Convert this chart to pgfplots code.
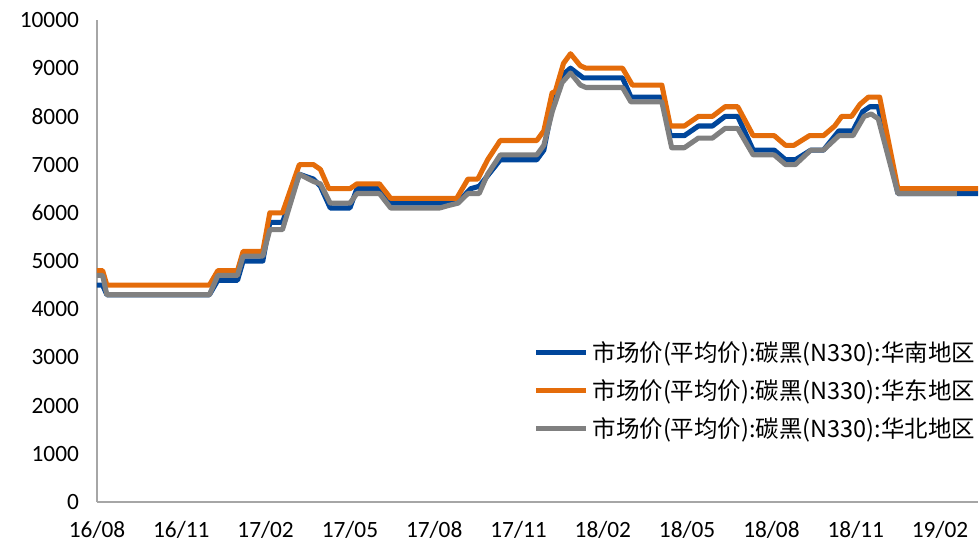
\documentclass[border=0pt]{standalone}
\usepackage{pgfplots}
\pgfplotsset{compat=1.18}
\usepackage{fontspec}
\setmainfont{Carlito}
\newfontfamily\cjk{Noto Sans CJK SC}

\definecolor{southblue}{RGB}{0,70,155}
\definecolor{eastorange}{RGB}{228,108,10}
\definecolor{northgrey}{RGB}{128,128,128}

% x: months since 2016-08
\pgfplotstableread{
m v
0 4500
0.2 4500
0.35 4300
4.0 4300
4.3 4600
5.0 4600
5.2 5000
5.9 5000
6.15 5800
6.6 5800
7.2 6800
7.7 6700
7.95 6550
8.3 6100
9.0 6100
9.25 6500
10.05 6500
10.45 6200
12.8 6200
13.3 6500
13.6 6550
14.35 7100
15.65 7100
15.9 7300
16.2 8200
16.55 8850
16.85 9000
17.3 8800
18.7 8800
19.0 8400
20.1 8400
20.4 7600
20.9 7600
21.4 7800
21.9 7800
22.35 8000
22.8 8000
23.35 7300
24.1 7300
24.5 7100
24.85 7100
25.4 7300
25.85 7300
26.4 7700
26.9 7700
27.25 8100
27.5 8200
27.8 8200
28.5 6400
31.35 6400
}\south

\pgfplotstableread{
m v
0 4800
0.2 4800
0.35 4500
4.0 4500
4.3 4800
5.0 4800
5.2 5200
5.9 5200
6.15 6000
6.6 6000
7.2 7000
7.7 7000
7.95 6900
8.25 6500
9.0 6500
9.25 6600
10.05 6600
10.45 6300
12.8 6300
13.2 6700
13.55 6700
13.9 7100
14.35 7500
15.65 7500
15.9 7700
16.2 8500
16.3 8500
16.6 9100
16.85 9300
17.2 9050
17.4 9000
18.7 9000
19.05 8650
20.1 8650
20.4 7800
20.9 7800
21.4 8000
21.9 8000
22.35 8200
22.8 8200
23.35 7600
24.1 7600
24.5 7400
24.8 7400
25.35 7600
25.85 7600
26.25 7800
26.5 8000
26.85 8000
27.15 8250
27.45 8400
27.85 8400
28.5 6500
31.35 6500
}\east

\pgfplotstableread{
m v
0 4700
0.2 4700
0.35 4300
4.0 4300
4.3 4700
5.0 4700
5.2 5100
5.9 5100
6.15 5650
6.6 5650
7.2 6800
7.7 6650
7.95 6600
8.3 6200
9.0 6200
9.25 6400
10.05 6400
10.45 6100
12.2 6100
12.5 6150
12.85 6200
13.2 6400
13.6 6400
13.9 6800
14.35 7200
15.65 7200
15.9 7400
16.2 8100
16.55 8700
16.85 8900
17.2 8650
17.4 8600
18.7 8600
19.0 8300
20.1 8300
20.45 7350
20.9 7350
21.4 7550
21.9 7550
22.35 7750
22.8 7750
23.35 7200
24.1 7200
24.5 7000
24.85 7000
25.4 7300
25.85 7300
26.4 7600
26.9 7600
27.3 8000
27.55 8050
27.8 7950
28.5 6400
30.6 6400
}\north

\begin{document}
\begin{tikzpicture}
\begin{axis}[
    name=ax,
    scale only axis,
    width=660.75pt, height=361.5pt,
    xmin=0, xmax=31.35,
    ymin=0, ymax=10000,
    axis x line=bottom, axis y line=left,
    axis line style={-, color=black!35, line width=0.9pt},
    major tick length=0pt,
    xtick={0,3,...,30},
    xticklabels={16/08,16/11,17/02,17/05,17/08,17/11,18/02,18/05,18/08,18/11,19/02},
    ytick={0,1000,...,10000},
    /pgf/number format/assume math mode=true,
    scaled y ticks=false,
    yticklabel style={/pgf/number format/1000 sep={}, xshift=-10pt},
    xticklabel style={yshift=-11pt},
    tick label style={font=\fontsize{17.5}{20}\selectfont},
    legend cell align=left,
    legend style={at={(rel axis cs:1.0,0.339)}, anchor=north east, draw=none, fill=none,
        font=\cjk\fontsize{17.6}{20}\selectfont, row sep=8pt, inner sep=0pt,
        /tikz/every odd column/.append style={column sep=1pt}},
    legend image code/.code={\draw[#1] (0pt,0pt) -- (37.5pt,0pt);},
    every axis plot/.append style={line width=3.8pt, line join=round},
]
\addplot[color=southblue] table[x=m, y=v] {\south};
\addlegendentry{市场价(平均价):碳黑(N330):华南地区}
\addplot[color=eastorange] table[x=m, y=v] {\east};
\addlegendentry{市场价(平均价):碳黑(N330):华东地区}
\addplot[color=northgrey] table[x=m, y=v] {\north};
\addlegendentry{市场价(平均价):碳黑(N330):华北地区}
\end{axis}
\path ([xshift=-72.75pt, yshift=-31.5pt]ax.south west) rectangle ([xshift=0.75pt, yshift=15pt]ax.north east);
\end{tikzpicture}
\end{document}
